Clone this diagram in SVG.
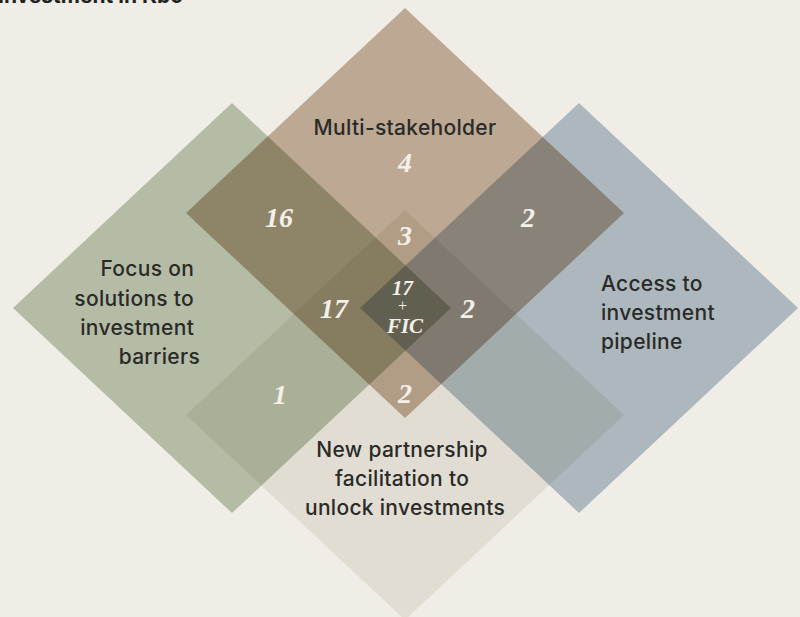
<svg xmlns="http://www.w3.org/2000/svg" width="800" height="617" viewBox="0 0 800 617">
  <style>
    .zone { mix-blend-mode: multiply; }
    .label { font-family: Inter, "Liberation Sans", sans-serif; font-size: 21px; font-weight: 500; letter-spacing: 0.3px; fill: #2a2a28; }
    .count { font-family: "Liberation Serif", "DejaVu Serif", serif; font-style: italic; font-weight: 700; font-size: 28px; fill: #f4f0e9; text-anchor: middle; }
    .title { font-family: Inter, "Liberation Sans", sans-serif; font-weight: 700; font-size: 21px; fill: #222220; }
  </style>

  <!-- four overlapping diamonds, multiplied onto the page colour -->
  <g style="isolation:isolate">
    <rect width="800" height="617" fill="#f0ede7"/>
    <g id="multi-stakeholder">
      <polygon class="zone" points="405,8 624,213 405,418 186,213" fill="#c8b5a2"/>
    </g>
    <g id="solutions">
      <polygon class="zone" points="232,103 451,308 232,513 13,308" fill="#c1cab6"/>
    </g>
    <g id="pipeline">
      <polygon class="zone" points="579,103 798,308 579,513 360,308" fill="#b8c6d2"/>
    </g>
    <g id="partnership">
      <polygon class="zone" points="405,210 624,415 405,620 186,415" fill="#f0eee9"/>
    </g>
  </g>

  <!-- heading, mostly above the top edge -->
  <text class="title" x="-2" y="3">Investment in Kbc</text>

  <!-- set labels -->
  <g id="labels">
    <text class="label" x="405" y="135" text-anchor="middle">Multi-stakeholder</text>
    <text class="label" text-anchor="end">
      <tspan x="200" y="276">Focus on</tspan>
      <tspan x="200" y="306">solutions to</tspan>
      <tspan x="200" y="335">investment</tspan>
      <tspan x="200" y="364">barriers</tspan>
    </text>
    <text class="label">
      <tspan x="601" y="291">Access to</tspan>
      <tspan x="601" y="320">investment</tspan>
      <tspan x="601" y="349">pipeline</tspan>
    </text>
    <text class="label" text-anchor="middle">
      <tspan x="405" y="457">New partnership</tspan>
      <tspan x="405" y="486">facilitation to</tspan>
      <tspan x="405" y="515">unlock investments</tspan>
    </text>
  </g>

  <!-- counts per region -->
  <g id="counts">
    <text class="count" x="405" y="172">4</text>
    <text class="count" x="279" y="227">16</text>
    <text class="count" x="528" y="227">2</text>
    <text class="count" x="405" y="245">3</text>
    <text class="count" x="334" y="318">17</text>
    <text class="count" x="468" y="318">2</text>
    <text class="count" x="280" y="404">1</text>
    <text class="count" x="405" y="403">2</text>
    <text class="count" style="font-size:21px">
      <tspan x="405" y="295">17</tspan>
      <tspan x="405" y="311" style="font-size:16px;font-weight:400">+</tspan>
      <tspan x="405" y="333">FIC</tspan>
    </text>
  </g>
</svg>
